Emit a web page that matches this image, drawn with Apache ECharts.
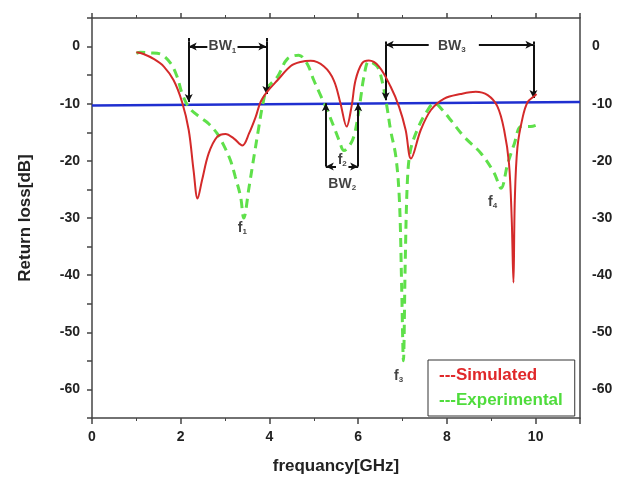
<!DOCTYPE html>
<html>
<head>
<meta charset="utf-8">
<script src="https://cdn.jsdelivr.net/npm/echarts@6/dist/echarts.min.js"></script>
<style>html,body{margin:0;padding:0;background:#fff}#c{width:623px;height:483px}</style>
</head>
<body>
<div id="c"></div>
<script>
// frequency (GHz), return loss (dB) — Simulated
const simFreq = [1.0,1.16,1.4,1.62,1.84,2.03,2.18,2.29,2.38,2.48,2.63,2.82,3.01,3.2,3.39,3.54,3.69,3.8,3.95,4.18,4.48,4.7,4.93,5.23,5.45,5.6,5.74,5.85,5.94,6.09,6.24,6.47,6.73,6.92,7.07,7.19,7.41,7.64,7.94,8.31,8.65,8.92,9.14,9.29,9.4,9.46,9.5,9.53,9.59,9.71,9.82,9.95,10.02];
const simLoss = [-1.0,-1.3,-2.2,-3.5,-5.9,-9.7,-14.6,-21.7,-26.6,-23.4,-18.7,-15.8,-15.3,-16.1,-17.3,-15.2,-12.3,-9.7,-7.9,-5.9,-3.4,-2.7,-2.5,-3.5,-5.9,-9.9,-14.0,-10.5,-5.9,-2.9,-2.45,-3.5,-7.0,-10.5,-14.6,-19.6,-14.6,-11.1,-9.1,-8.3,-7.9,-8.5,-10.5,-14.6,-20.5,-30.0,-41.3,-27.0,-17.6,-12.3,-9.7,-8.8,-8.3];
// Experimental
const expFreq = [1.0,1.09,1.3,1.54,1.77,1.92,2.03,2.2,2.48,2.63,2.82,2.97,3.12,3.23,3.35,3.42,3.54,3.65,3.76,3.84,3.95,4.18,4.4,4.66,4.85,5.0,5.15,5.3,5.45,5.57,5.68,5.87,5.98,6.06,6.13,6.24,6.43,6.55,6.66,6.73,6.85,6.93,6.98,7.02,7.06,7.11,7.18,7.33,7.52,7.72,7.9,8.09,8.39,8.77,9.07,9.22,9.37,9.52,9.67,9.89,10.0];
const expLoss = [-1.2,-1.0,-1.1,-1.3,-2.9,-5.3,-8.2,-10.8,-12.6,-13.5,-15.2,-17.3,-19.9,-22.8,-26.3,-30.0,-24.6,-19.3,-14.1,-10.5,-7.3,-5.3,-2.2,-1.5,-3.0,-5.9,-8.5,-11.1,-14.0,-16.4,-18.2,-16.4,-12.9,-8.8,-5.3,-2.6,-3.5,-6.4,-11.1,-14.6,-19.3,-27.0,-42.0,-55.0,-38.0,-23.4,-18.1,-14.6,-11.7,-9.9,-11.1,-12.9,-15.8,-18.7,-22.2,-24.8,-20.5,-17.0,-14.0,-14.0,-13.8];
// -10 dB reference line
const refFreq = [0, 11];
const refLoss = [-10.3, -9.7];
// tick labels
const yTickLabels = [0,-10,-20,-30,-40,-50,-60];
const xTickLabels = [0,2,4,6,8,10];
// annotations (data coords)
const annoText = [
  {t:'{b|BW}{s|1}', x:2.94, y:0.0},
  {t:'{b|BW}{s|3}', x:8.11, y:0.1},
  {t:'{b|f}{s|2}', x:5.64, y:-19.9},
  {t:'{b|BW}{s|2}', x:5.64, y:-24.0},
  {t:'{b|f}{s|1}', x:3.39, y:-31.8},
  {t:'{b|f}{s|3}', x:6.91, y:-57.7},
  {t:'{b|f}{s|4}', x:9.03, y:-27.2}
];
// arrow segments [x1,y1,x2,y2], arrow head at end 2
const annoArrows = [
  [2.18,0.9,2.18,-9.7],[3.93,0.9,3.93,-8.3],
  [2.6,0.0,2.18,0.0],[3.28,0.0,3.93,0.0],
  [6.62,0.3,6.62,-9.4],[9.95,0.3,9.95,-9.0],
  [7.59,0.3,6.62,0.3],[8.72,0.3,9.95,0.3],
  [5.27,-21.0,5.27,-9.9],[6.0,-21.0,6.0,-9.9],
  [5.5,-21.0,5.27,-21.0],[5.78,-21.0,6.0,-21.0]
];
const annoBars = [[2.18,0.9,2.18,1.5],[3.93,0.9,3.93,1.5],[6.62,0.3,6.62,0.9],[9.95,0.3,9.95,0.9]];

const zip = (a,b)=>a.map((v,i)=>[v,b[i]]);
const axisColor = '#444';
const labelFont = {fontFamily:'Liberation Sans, Arial, sans-serif', fontWeight:'bold', fontSize:14, color:'#222'};

const chart = echarts.init(document.getElementById('c'), null, {renderer:'canvas'});
chart.setOption({
  animation:false,
  backgroundColor:'#fff',
  grid:{left:92, right:43, top:18, bottom:65, containLabel:false},
  legend:{
    orient:'vertical', left:428, top:360, icon:'none', itemWidth:0, itemGap:8,
    padding:[7,12,7,6], borderColor:'#333', borderWidth:1,
    formatter: n => '---' + n,
    textStyle:{fontFamily:'Liberation Sans, Arial, sans-serif', fontWeight:'bold', fontSize:17},
    data:[{name:'Simulated', textStyle:{color:'#e0282a'}},{name:'Experimental', textStyle:{color:'#4fdc3c'}}]
  },
  xAxis:[
    {type:'value', min:0, max:11, interval:2, position:'bottom',
     name:'frequancy[GHz]', nameLocation:'middle', nameGap:40,
     nameTextStyle:{fontFamily:'Liberation Sans, Arial, sans-serif', fontWeight:'bold', fontSize:17, color:'#222'},
     axisLine:{onZero:false, lineStyle:{color:axisColor, width:1.5}},
     axisTick:{show:true, inside:false, length:6, lineStyle:{color:axisColor, width:1.5}},
     minorTick:{show:true, splitNumber:2, length:3, lineStyle:{color:axisColor}},
     splitLine:{show:false},
     axisLabel:Object.assign({margin:12, formatter:v=>xTickLabels.includes(v)?String(v):''}, labelFont)},
    {type:'value', min:0, max:11, interval:2, position:'top',
     axisLine:{onZero:false, lineStyle:{color:axisColor, width:1.5}},
     axisTick:{show:true, inside:false, length:5, lineStyle:{color:axisColor, width:1.5}},
     minorTick:{show:true, splitNumber:2, length:3, lineStyle:{color:axisColor}},
     splitLine:{show:false}, axisLabel:{show:false}}
  ],
  yAxis:[
    {type:'value', min:-65, max:5, interval:5, position:'left',
     name:'Return loss[dB]', nameLocation:'middle', nameGap:58, nameRotate:90,
     nameTextStyle:{fontFamily:'Liberation Sans, Arial, sans-serif', fontWeight:'bold', fontSize:17, color:'#222'},
     axisLine:{show:true, onZero:false, lineStyle:{color:axisColor, width:1.5}},
     axisTick:{show:true, inside:false, length:5, lineStyle:{color:axisColor, width:1.5}},
     splitLine:{show:false},
     axisLabel:Object.assign({margin:12, formatter:v=>yTickLabels.includes(v)?String(v):''}, labelFont)},
    {type:'value', min:-65, max:5, interval:5, position:'right',
     axisLine:{show:true, onZero:false, lineStyle:{color:axisColor, width:1.5}},
     axisTick:{show:false}, splitLine:{show:false},
     axisLabel:Object.assign({margin:12, formatter:v=>yTickLabels.includes(v)?String(v):''}, labelFont)}
  ],
  series:[
    {name:'Ref', type:'line', data:zip(refFreq, refLoss), symbol:'none', silent:true,
     lineStyle:{color:'#1f2fd0', width:2.5}, z:3},
    {name:'Experimental', type:'line', data:zip(expFreq, expLoss), smooth:0.35, symbol:'none',
     lineStyle:{color:'#5fe04a', width:3, type:[9,6]}, itemStyle:{color:'#4fdc3c'}, z:4},
    {name:'Simulated', type:'line', data:zip(simFreq, simLoss), smooth:0.35, symbol:'none',
     lineStyle:{color:'#d42a2a', width:2}, itemStyle:{color:'#e0282a'}, z:5},
    {name:'annoLines', type:'line', data:[], silent:true, z:6,
     markLine:{silent:true, animation:false, symbol:['none','arrow'], symbolSize:[6,8],
       label:{show:false}, lineStyle:{color:'#111', width:2, type:'solid'},
       data: annoArrows.map(a=>[{coord:[a[0],a[1]]},{coord:[a[2],a[3]]}]).concat(
             annoBars.map(a=>[{coord:[a[0],a[1]], symbol:'none'},{coord:[a[2],a[3]], symbol:'none'}]))}},
    {name:'annoText', type:'scatter', silent:true, symbolSize:0, z:7,
     data: annoText.map(a=>({value:[a.x,a.y], label:{formatter:a.t}})),
     label:{show:true, position:'inside', color:'#111',
       rich:{b:{fontFamily:'Liberation Sans, Arial, sans-serif', fontWeight:'bold', fontSize:14, color:'#111'},
             s:{fontFamily:'Liberation Sans, Arial, sans-serif', fontWeight:'bold', fontSize:8, color:'#111', padding:[8,0,0,0]}}}}
  ]
});
</script>
</body>
</html>
